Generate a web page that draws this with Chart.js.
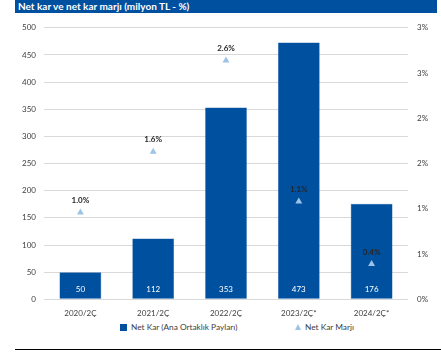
<!DOCTYPE html>
<html>
<head>
<meta charset="utf-8">
<script src="https://cdn.jsdelivr.net/npm/chart.js@4.4.1/dist/chart.umd.min.js"></script>
<style>
    body { margin: 0; background: #fff; font-family: Lato, sans-serif; }
    #wrap { position: relative; width: 441px; height: 352px; overflow: hidden; }
    #title {
        position: absolute; left: 15px; top: 0; width: 422px; height: 13px;
        background: #0050a0; color: #fff; font-weight: bold; font-size: 10px;
        line-height: 13px; padding-left: 3px; box-sizing: border-box; white-space: nowrap;
    }
    #chart-box { position: absolute; left: 0; top: 14px; width: 441px; height: 306px; }
    #legend { position: absolute; top: 321px; left: 0; width: 441px; height: 12px; font-size: 8.3px; color: #404040; }
    .item { position: absolute; top: 0; line-height: 12px; white-space: nowrap; }
    .sq { display: inline-block; width: 7px; height: 7px; background: #0050a0; vertical-align: -1px; margin-right: 4px; }
    .tri { display: inline-block; width: 0; height: 0; border-left: 3.5px solid transparent; border-right: 3.5px solid transparent; border-bottom: 6px solid #9dc3e6; vertical-align: 0px; margin-right: 4px; }
    #rule { position: absolute; left: 15px; top: 349px; width: 426px; height: 0; border-top: 1.5px solid #000; }
</style>
</head>
<body>
<div id="wrap">
    <div id="title">Net kar ve net kar marjı (milyon TL - %)</div>
    <div id="chart-box"><canvas id="kar-chart"></canvas></div>
    <div id="legend">
        <span class="item" style="left:120px"><span class="sq"></span>Net Kar (Ana Ortaklık Payları)</span>
        <span class="item" style="left:295px"><span class="tri"></span>Net Kar Marjı</span>
    </div>
    <div id="rule"></div>
</div>
<script>
const donemler = ['2020/2Ç', '2021/2Ç', '2022/2Ç', '2023/2Ç*', '2024/2Ç*'];
const netKar = [50, 112, 353, 473, 176];
const netKarMarji = [0.96, 1.63, 2.64, 1.08, 0.39];

const barRengi = '#0050a0';
const marjRengi = '#9dc3e6';

const etiketEklentisi = {
    id: 'etiketler',
    afterDatasetsDraw(chart) {
        const ctx = chart.ctx;
        ctx.save();
        ctx.textAlign = 'center';
        ctx.textBaseline = 'middle';

        // bar values, white, at the bottom of each bar
        const barMeta = chart.getDatasetMeta(1);
        const sifir = chart.scales.y.getPixelForValue(0);
        ctx.font = '8px Lato';
        ctx.fillStyle = '#ffffff';
        barMeta.data.forEach((bar, i) => {
            ctx.fillText(netKar[i], bar.x, sifir - 10);
        });

        // margin labels above the triangles
        const lineMeta = chart.getDatasetMeta(0);
        ctx.font = 'bold 8px Lato';
        ctx.fillStyle = '#262626';
        lineMeta.data.forEach((pt, i) => {
            ctx.fillText(netKarMarji[i].toFixed(1) + '%', pt.x, pt.y - 12);
        });
        ctx.restore();
    }
};

const ctx = document.getElementById('kar-chart').getContext('2d');

new Chart(ctx, {
    data: {
        labels: donemler,
        datasets: [
            {
                type: 'line',
                label: 'Net Kar Marjı',
                data: netKarMarji,
                yAxisID: 'y1',
                showLine: false,
                pointStyle: 'triangle',
                pointRadius: 4,
                pointBackgroundColor: marjRengi,
                pointBorderColor: marjRengi,
                pointBorderWidth: 0,
                order: 0
            },
            {
                type: 'bar',
                label: 'Net Kar (Ana Ortaklık Payları)',
                data: netKar,
                yAxisID: 'y',
                backgroundColor: barRengi,
                borderColor: '#2f66ad',
                borderWidth: 0.5,
                categoryPercentage: 1,
                barPercentage: 0.575,
                order: 1
            }
        ]
    },
    options: {
        responsive: true,
        maintainAspectRatio: false,
        animation: false,
        layout: {
            padding: { top: 11, left: 0, right: 0, bottom: 0 }
        },
        scales: {
            x: {
                grid: { display: false, drawTicks: false },
                border: { display: false },
                ticks: {
                    padding: 9,
                    color: '#404040',
                    font: { family: 'Lato', size: 8 },
                    maxRotation: 0
                },
                afterFit(scale) { scale.height = 20.7; }
            },
            y: {
                position: 'left',
                min: 0,
                max: 500,
                ticks: {
                    stepSize: 50,
                    padding: 8,
                    color: '#404040',
                    font: { family: 'Lato', size: 8 }
                },
                grid: { color: '#d9d9d9', drawTicks: false },
                border: { display: false },
                afterFit(scale) { scale.width = 44; }
            },
            y1: {
                position: 'right',
                min: 0,
                max: 3,
                ticks: {
                    stepSize: 0.5,
                    padding: 9,
                    color: '#404040',
                    font: { family: 'Lato', size: 8 },
                    callback: function(value) {
                        return Math.round(value) + '%';
                    }
                },
                grid: { display: false, drawTicks: false },
                border: { display: false },
                afterFit(scale) { scale.width = 33; }
            }
        },
        plugins: {
            legend: { display: false },
            tooltip: { enabled: false }
        }
    },
    plugins: [etiketEklentisi]
});
</script>
</body>
</html>
